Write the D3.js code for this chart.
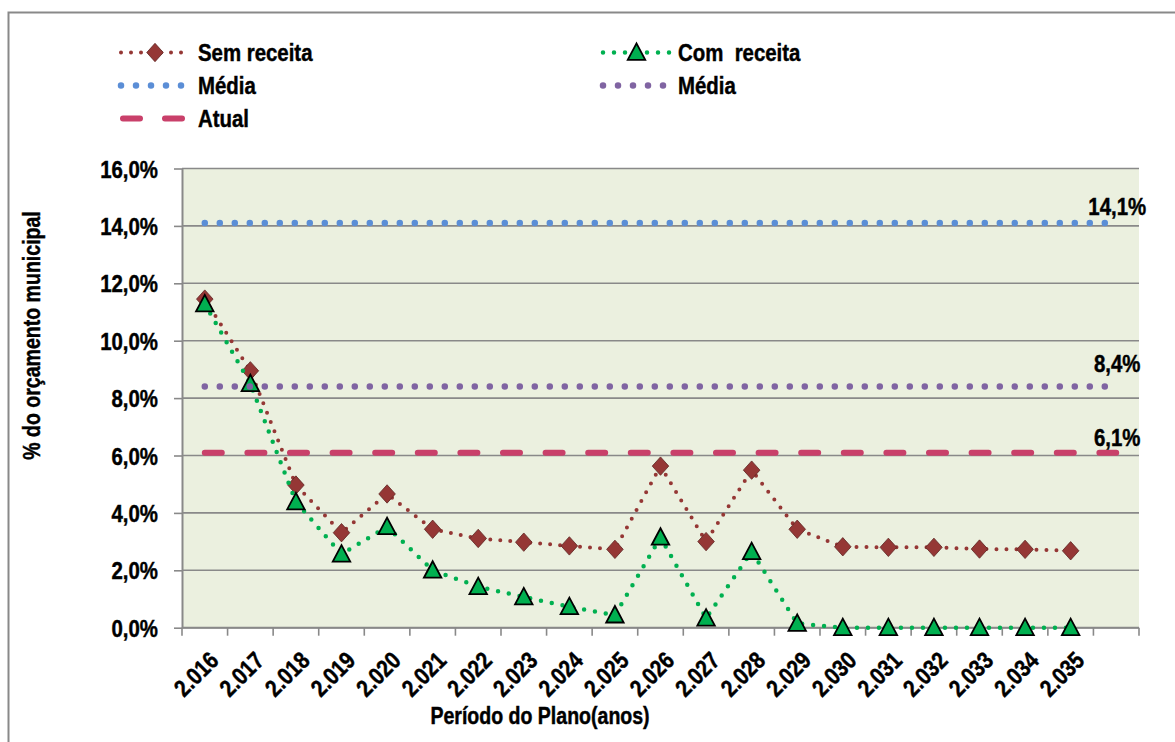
<!DOCTYPE html>
<html>
<head>
<meta charset="utf-8">
<script src="https://cdn.jsdelivr.net/npm/d3@7"></script>
<style>
  html, body { margin: 0; padding: 0; background: #fff; }
  svg { display: block; }
  text { font-family: "Liberation Sans", Arial, sans-serif; font-weight: bold; fill: #000;
         stroke: #000; stroke-width: 0.45px; }
</style>
</head>
<body>
<svg id="chart" width="1175" height="742"></svg>
<script>
// ---------- data ----------
const years = ["2.016","2.017","2.018","2.019","2.020","2.021","2.022","2.023","2.024","2.025",
               "2.026","2.027","2.028","2.029","2.030","2.031","2.032","2.033","2.034","2.035"];
const semReceita = [11.45, 8.95, 4.97, 3.31, 4.66, 3.43, 3.11, 2.98, 2.85, 2.73,
                    5.63, 3.00, 5.49, 3.43, 2.82, 2.80, 2.80, 2.74, 2.73, 2.68];
const comReceita = [11.28, 8.50, 4.38, 2.56, 3.52, 2.00, 1.43, 1.07, 0.73, 0.44,
                    3.15, 0.33, 2.65, 0.15, 0.00, 0.00, 0.00, 0.00, 0.00, 0.00];
const mediaSem = 14.1;
const mediaCom = 8.4;
const atual = 6.1;
const refLabels = ["14,1%", "8,4%", "6,1%"];
const yTickValues = [0, 2, 4, 6, 8, 10, 12, 14, 16];
const legendNames = ["Sem receita", "Com  receita", "Média", "Média", "Atual"];

// ---------- layout ----------
const svg = d3.select("#chart");
const plot = { left: 182, right: 1139, top: 168.5, bottom: 627.7 };
const cats = years.concat([""]);   // extra empty category at the end
const SX = 0.85;                   // horizontal squeeze for narrow bold type

const x = d3.scaleBand().domain(cats).range([plot.left, plot.right]).padding(0);
const y = d3.scaleLinear().domain([0, 16]).range([plot.bottom, plot.top]);
const cx = c => x(c) + x.bandwidth() / 2;

const gridColor = "#898989";

function addText(parent, px, py, str, size, anchor, extra) {
  return parent.append("text")
    .attr("transform", `translate(${px},${py})${extra || ""} scale(${SX},1)`)
    .attr("text-anchor", anchor || "start")
    .attr("font-size", size)
    .attr("xml:space", "preserve").style("white-space", "pre")
    .text(str);
}

// outer border
svg.append("rect").attr("x", 8.5).attr("y", 12.5).attr("width", 1300).attr("height", 900)
  .attr("fill", "none").attr("stroke", gridColor).attr("stroke-width", 2);

// plot background
svg.append("rect").attr("x", plot.left).attr("y", plot.top)
  .attr("width", plot.right - plot.left).attr("height", plot.bottom - plot.top)
  .attr("fill", "#EBF0DF");

// gridlines
svg.append("g").selectAll("line").data(yTickValues).join("line")
  .attr("x1", plot.left).attr("x2", plot.right)
  .attr("y1", d => y(d)).attr("y2", d => y(d))
  .attr("stroke", gridColor).attr("stroke-width", 1.6);

// y axis
const fmtPct = d => d3.format(".1f")(d).replace(".", ",") + "%";
const yAxis = svg.append("g").attr("transform", `translate(${plot.left},0)`)
  .call(d3.axisLeft(y).tickValues(yTickValues).tickSize(8).tickSizeOuter(0).tickFormat(fmtPct));
yAxis.attr("font-family", null).attr("font-size", null);
yAxis.select(".domain").attr("stroke", gridColor).attr("stroke-width", 2);
yAxis.selectAll(".tick line").attr("stroke", gridColor).attr("stroke-width", 1.6);
yAxis.selectAll(".tick text")
  .attr("x", 0).attr("dy", null)
  .attr("transform", `translate(-24,8.5) scale(${SX},1)`)
  .attr("font-size", 24).attr("fill", "#000");

// x axis line and ticks at band edges
const xAxisG = svg.append("g");
xAxisG.append("line").attr("x1", plot.left).attr("x2", plot.right)
  .attr("y1", plot.bottom).attr("y2", plot.bottom)
  .attr("stroke", gridColor).attr("stroke-width", 2);
const edges = cats.map(c => x(c)).concat([x.range()[1]]);
xAxisG.selectAll("line.tk").data(edges).join("line").attr("class", "tk")
  .attr("x1", d => d).attr("x2", d => d)
  .attr("y1", plot.bottom).attr("y2", plot.bottom + 8)
  .attr("stroke", gridColor).attr("stroke-width", 1.6);
years.forEach(yr => {
  addText(xAxisG, cx(yr) + 3, plot.bottom + 22, yr, 24, "end", " rotate(-45)")
    .attr("dy", "0.72em");
});

// axis titles
addText(svg, 540, 724, "Período do Plano(anos)", 23, "middle");
addText(svg, 40, 335.5, "% do orçamento municipal", 23, "middle", " rotate(-90)");

// ---------- series ----------
const styles = {
  sem:  { color: "#953735", width: 4,   dash: "0,10" },
  com:  { color: "#00B050", width: 4.5, dash: "0,11" },
  mSem: { color: "#5B8ED6", width: 6.5, dash: "0,15" },
  mCom: { color: "#8064A2", width: 6.5, dash: "0,15" },
  atu:  { color: "#C9406A", width: 6,   dash: "17,25.6" }
};

const line = d3.line().x(d => cx(d.c)).y(d => y(d.v));
const semData = years.map((c, i) => ({ c, v: semReceita[i] }));
const comData = years.map((c, i) => ({ c, v: comReceita[i] }));

function drawLine(data, st) {
  svg.append("path").datum(data).attr("d", line)
    .attr("fill", "none").attr("stroke", st.color).attr("stroke-width", st.width)
    .attr("stroke-dasharray", st.dash).attr("stroke-linecap", "round");
}

const diamond = (s) => `M0,${-s}L${s * 0.9},0L0,${s}L${-s * 0.9},0Z`;
const triangle = (w, h) => `M0,${-h * 0.55}L${w / 2},${h * 0.45}L${-w / 2},${h * 0.45}Z`;

drawLine(semData, styles.sem);
svg.append("g").selectAll("path").data(semData).join("path")
  .attr("transform", d => `translate(${cx(d.c)},${y(d.v)})`)
  .attr("d", diamond(9.2))
  .attr("fill", styles.sem.color).attr("stroke", "#5e2422").attr("stroke-width", 0.8);

drawLine(comData, styles.com);
svg.append("g").selectAll("path").data(comData).join("path")
  .attr("transform", d => `translate(${cx(d.c)},${y(d.v)})`)
  .attr("d", triangle(17.5, 16.5))
  .attr("fill", styles.com.color).attr("stroke", "#000").attr("stroke-width", 1.8)
  .attr("stroke-linejoin", "miter");

// reference lines from first to last (empty) category
const refs = [
  { v: mediaSem, st: styles.mSem, label: refLabels[0], off: 8 },
  { v: mediaCom, st: styles.mCom, label: refLabels[1], off: 15 },
  { v: atual,    st: styles.atu,  label: refLabels[2], off: 7 }
];
refs.forEach(r => {
  const data = cats.map(c => ({ c, v: r.v }));
  drawLine(data, r.st);
  addText(svg, cx(cats[cats.length - 1]) + 1, y(r.v) - r.off, r.label, 24, "middle");
});

// ---------- legend ----------
const legendItems = [
  { name: legendNames[0], st: styles.sem,  marker: "d", col: 0, row: 0 },
  { name: legendNames[1], st: styles.com,  marker: "t", col: 1, row: 0 },
  { name: legendNames[2], st: styles.mSem, marker: null, col: 0, row: 1 },
  { name: legendNames[3], st: styles.mCom, marker: null, col: 1, row: 1 },
  { name: legendNames[4], st: styles.atu,  marker: null, col: 0, row: 2 }
];
const legCols = [{ x0: 121, x1: 183, tx: 198 }, { x0: 603, x1: 670, tx: 678 }];
const legRowY = r => 52.5 + r * 33;
const lg = svg.append("g");
legendItems.forEach(it => {
  const c = legCols[it.col], yy = legRowY(it.row);
  const dash = it.st === styles.atu ? "17,25" : it.st.dash;
  const x0 = it.st === styles.atu ? 123 : c.x0;
  const x1 = it.st === styles.atu ? 183 : c.x1;
  lg.append("line").attr("x1", x0).attr("x2", x1 + 0.01).attr("y1", yy).attr("y2", yy)
    .attr("stroke", it.st.color).attr("stroke-width", it.st.width)
    .attr("stroke-dasharray", dash).attr("stroke-linecap", "round");
  if (it.marker === "d") {
    lg.append("path").attr("transform", `translate(${(x0 + x1) / 2 + 3},${yy})`)
      .attr("d", diamond(9.2)).attr("fill", it.st.color).attr("stroke", "#5e2422").attr("stroke-width", 0.8);
  } else if (it.marker === "t") {
    lg.append("path").attr("transform", `translate(${(x0 + x1) / 2},${yy})`)
      .attr("d", triangle(17.5, 16.5)).attr("fill", it.st.color).attr("stroke", "#000").attr("stroke-width", 1.8);
  }
  addText(lg, c.tx, yy + 8, it.name, 24, "start");
});
</script>
</body>
</html>
